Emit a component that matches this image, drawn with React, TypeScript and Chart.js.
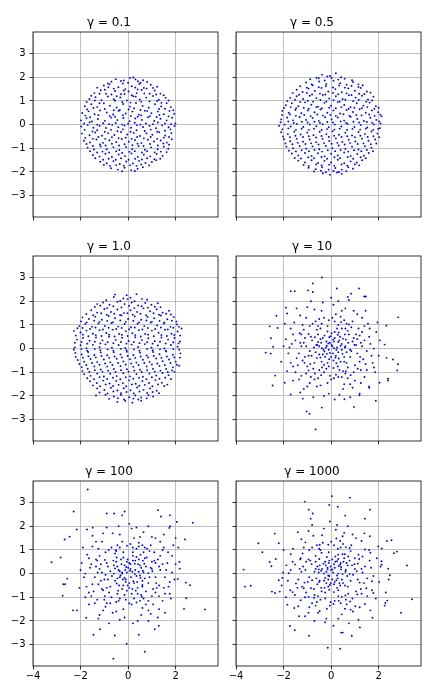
import React, { useEffect, useRef } from 'react';
import { Chart, registerables } from 'chart.js';
Chart.register(...registerables);

const gammaLabels = ['0.1', '0.5', '1.0', '10', '100', '1000'];
const xTicks = [-4, -2, 0, 2];
const yTicks = [-3, -2, -1, 0, 1, 2, 3];
const xRange = [-4.0, 3.78];
const yRange = [-3.9, 3.91];

const pts01: number[][] = [
[-0.52,1.92],[-0.18,1.86],[0.08,1.97],[0.31,1.91],[0.63,1.87],[0.22,1.99],
[-1.02,1.65],[-0.78,1.7],[-0.41,1.58],[-0.22,1.74],[0.15,1.62],[0.47,1.72],[0.66,1.55],[0.95,1.68],[-0.6,1.52],
[-1.42,1.33],[-1.15,1.45],[-0.93,1.3],[-0.55,1.42],[-0.3,1.28],[0.02,1.4],[0.36,1.33],[0.57,1.46],[0.91,1.3],[1.12,1.44],[1.36,1.31],[-0.12,1.5],[0.78,1.52],
[-1.63,1.08],[-1.37,1.16],[-1.12,1.03],[-0.85,1.19],[-0.6,1.07],[-0.33,1.15],[-0.05,1.02],[0.22,1.2],[0.49,1.06],[0.76,1.14],[1.05,1.21],[1.29,1.05],[1.58,1.13],[0.9,0.98],
[-1.82,0.78],[-1.55,0.86],[-1.3,0.74],[-1.02,0.9],[-0.77,0.8],[-0.48,0.72],[-0.21,0.87],[0.08,0.76],[0.33,0.91],[0.61,0.79],[0.87,0.71],[1.13,0.86],[1.39,0.77],[1.62,0.9],[1.8,0.74],[-0.35,0.62],
[-1.93,0.49],[-1.66,0.56],[-1.41,0.44],[-1.18,0.6],[-0.9,0.51],[-0.63,0.43],[-0.4,0.58],[-0.1,0.47],[0.18,0.55],[0.45,0.42],[0.7,0.59],[0.98,0.48],[1.25,0.55],[1.5,0.44],[1.74,0.58],[1.94,0.46],
[-1.98,0.18],[-1.75,0.27],[-1.52,0.13],[-1.27,0.24],[-0.98,0.16],[-0.72,0.3],[-0.45,0.19],[-0.2,0.28],[0.06,0.14],[0.3,0.26],[0.58,0.2],[0.84,0.31],[1.1,0.15],[1.36,0.25],[1.62,0.18],[1.85,0.29],[1.99,0.05],
[-1.97,-0.08],[-1.7,-0.02],[-1.46,-0.13],[-1.2,-0.05],[-0.93,-0.14],[-0.67,-0.01],[-0.41,-0.11],[-0.15,-0.04],[0.12,-0.13],[0.37,-0.02],[0.63,-0.1],[0.9,-0.05],[1.17,-0.15],[1.43,-0.03],[1.7,-0.11],[1.95,-0.06],
[-1.94,-0.38],[-1.62,-0.45],[-1.38,-0.33],[-1.1,-0.47],[-0.84,-0.36],[-0.58,-0.44],[-0.3,-0.31],[-0.04,-0.42],[0.24,-0.35],[0.5,-0.48],[0.77,-0.37],[1.02,-0.43],[1.31,-0.32],[1.56,-0.46],[1.82,-0.36],
[-1.86,-0.68],[-1.6,-0.75],[-1.33,-0.63],[-1.05,-0.77],[-0.79,-0.66],[-0.5,-0.74],[-0.26,-0.61],[0.03,-0.72],[0.29,-0.65],[0.56,-0.78],[0.83,-0.64],[1.09,-0.71],[1.37,-0.67],[1.63,-0.76],[1.84,-0.62],
[-1.7,-0.97],[-1.44,-1.05],[-1.16,-0.92],[-0.9,-1.04],[-0.62,-0.95],[-0.37,-1.07],[-0.09,-0.94],[0.17,-1.03],[0.44,-0.91],[0.71,-1.06],[0.97,-0.96],[1.24,-1.04],[1.5,-0.93],[1.69,-1.02],
[-1.48,-1.28],[-1.2,-1.35],[-0.95,-1.23],[-0.68,-1.37],[-0.4,-1.26],[-0.13,-1.33],[0.14,-1.22],[0.41,-1.36],[0.66,-1.27],[0.93,-1.34],[1.2,-1.24],[1.45,-1.32],
[-1.17,-1.57],[-0.9,-1.63],[-0.62,-1.54],[-0.35,-1.66],[-0.08,-1.56],[0.2,-1.64],[0.46,-1.53],[0.73,-1.62],[1.0,-1.58],[1.18,-1.5],
[-0.72,-1.84],[-0.43,-1.9],[-0.15,-1.82],[0.13,-1.92],[0.4,-1.86],[0.62,-1.8],[-0.25,-1.97],[0.28,-1.96],
[-0.85,1.74],[-0.7,1.81],[-0.3,1.84],[0.0,1.77],[0.41,1.83],[0.52,1.77],[0.8,1.8],
[-1.3,1.56],[-0.98,1.47],[-0.83,1.58],[-0.18,1.44],[0.3,1.57],[0.4,1.48],[1.05,1.55],[1.22,1.6],
[-1.55,1.22],[-1.2,1.3],[-0.7,1.27],[-0.48,1.2],[-0.15,1.29],[0.15,1.24],[0.32,1.18],[0.68,1.32],[1.18,1.27],[1.5,1.24],
[-1.74,0.96],[-1.4,1.02],[-1.2,0.9],[-0.55,1.01],[-0.25,0.96],[0.1,0.93],[0.55,0.97],[1.22,1.0],[1.4,0.92],[1.7,1.02],
[-1.72,0.64],[-1.46,0.7],[-0.98,0.66],[-0.6,0.61],[0.02,0.64],[0.25,0.69],[0.52,0.62],[0.8,0.57],[1.3,0.66],[1.55,0.67],[1.9,0.61],
[-1.8,0.38],[-1.6,0.31],[-1.25,0.4],[-0.78,0.37],[-0.55,0.33],[-0.22,0.4],[0.12,0.36],[0.4,0.33],[0.55,0.39],[0.92,0.36],[1.2,0.32],[1.32,0.41],[1.7,0.35],
[-1.85,0.05],[-1.62,0.1],[-1.3,0.0],[-1.05,0.06],[-0.8,0.02],[-0.52,0.07],[-0.25,0.0],[0.0,0.04],[0.28,0.08],[0.52,0.0],[0.75,0.05],[1.05,0.02],[1.25,0.09],[1.55,0.05],[1.8,0.02],
[-1.83,-0.22],[-1.5,-0.29],[-1.3,-0.24],[-0.98,-0.3],[-0.72,-0.22],[-0.45,-0.28],[-0.22,-0.2],[0.1,-0.3],[0.35,-0.24],[0.7,-0.27],[0.95,-0.21],[1.22,-0.3],[1.55,-0.26],[1.78,-0.2],
[-1.8,-0.56],[-1.48,-0.6],[-1.25,-0.52],[-0.96,-0.6],[-0.68,-0.53],[-0.4,-0.57],[-0.1,-0.55],[0.15,-0.6],[0.38,-0.52],[0.66,-0.58],[0.95,-0.52],[1.22,-0.6],[1.5,-0.55],[1.72,-0.52],
[-1.75,-0.82],[-1.48,-0.9],[-1.18,-0.84],[-0.95,-0.88],[-0.68,-0.81],[-0.38,-0.88],[-0.15,-0.83],[0.18,-0.87],[0.4,-0.81],[0.65,-0.9],[0.92,-0.82],[1.25,-0.88],[1.48,-0.8],[1.72,-0.85],
[-1.6,-1.12],[-1.3,-1.18],[-1.08,-1.14],[-0.8,-1.18],[-0.5,-1.12],[-0.25,-1.2],[0.05,-1.15],[0.28,-1.12],[0.58,-1.18],[0.8,-1.12],[1.12,-1.17],[1.38,-1.14],[1.62,-1.16],
[-1.38,-1.42],[-1.05,-1.48],[-0.82,-1.44],[-0.52,-1.48],[-0.3,-1.42],[0.02,-1.48],[0.3,-1.44],[0.58,-1.47],[0.8,-1.42],[1.1,-1.46],[1.35,-1.44],
[-1.02,-1.7],[-0.76,-1.74],[-0.5,-1.71],[-0.18,-1.74],[0.08,-1.72],[0.35,-1.74],[0.55,-1.68],[0.88,-1.72]
];

const pts05: number[][] = [
[-0.38,2.1],[-0.05,2.05],[0.2,2.17],[0.42,2.0],[-0.62,1.98],
[-1.05,1.78],[-0.82,1.7],[-0.5,1.82],[-0.2,1.72],[0.1,1.85],[0.38,1.75],[0.65,1.68],[0.92,1.8],[1.15,1.7],
[-1.45,1.47],[-1.2,1.38],[-0.95,1.52],[-0.68,1.42],[-0.4,1.55],[-0.12,1.4],[0.18,1.5],[0.45,1.37],[0.72,1.53],[1.0,1.43],[1.25,1.55],[1.5,1.4],
[-1.72,1.13],[-1.45,1.2],[-1.18,1.08],[-0.9,1.22],[-0.62,1.12],[-0.35,1.25],[-0.08,1.1],[0.2,1.2],[0.48,1.08],[0.75,1.24],[1.03,1.14],[1.3,1.22],[1.55,1.06],[1.78,1.18],
[-1.9,0.82],[-1.65,0.9],[-1.38,0.78],[-1.1,0.94],[-0.83,0.84],[-0.55,0.76],[-0.28,0.92],[0.0,0.8],[0.28,0.95],[0.55,0.83],[0.82,0.74],[1.08,0.9],[1.36,0.8],[1.62,0.93],[1.88,0.78],
[-2.05,0.58],[-1.78,0.5],[-1.5,0.62],[-1.25,0.48],[-0.98,0.6],[-0.7,0.52],[-0.45,0.64],[-0.16,0.5],[0.1,0.6],[0.38,0.47],[0.65,0.62],[0.92,0.53],[1.2,0.65],[1.46,0.5],[1.72,0.6],[1.98,0.52],[2.12,0.35],
[-2.1,0.22],[-1.85,0.3],[-1.6,0.18],[-1.32,0.32],[-1.05,0.2],[-0.78,0.28],[-0.52,0.16],[-0.25,0.31],[0.02,0.22],[0.28,0.3],[0.55,0.17],[0.82,0.33],[1.1,0.24],[1.38,0.15],[1.65,0.29],[1.9,0.2],[2.08,0.05],
[-2.19,-0.05],[-1.95,0.0],[-1.7,-0.08],[-1.44,0.03],[-1.17,-0.1],[-0.9,0.01],[-0.62,-0.07],[-0.36,0.02],[-0.1,-0.11],[0.16,0.0],[0.43,-0.08],[0.7,0.03],[0.98,-0.1],[1.25,-0.02],[1.52,-0.12],[1.8,0.01],[2.05,-0.15],
[-2.1,-0.32],[-1.82,-0.4],[-1.55,-0.3],[-1.28,-0.42],[-1.0,-0.33],[-0.74,-0.45],[-0.48,-0.3],[-0.2,-0.4],[0.06,-0.28],[0.33,-0.43],[0.6,-0.34],[0.88,-0.46],[1.15,-0.31],[1.42,-0.4],[1.7,-0.29],[1.95,-0.38],
[-1.98,-0.62],[-1.72,-0.7],[-1.45,-0.6],[-1.18,-0.72],[-0.9,-0.63],[-0.63,-0.74],[-0.36,-0.6],[-0.08,-0.69],[0.2,-0.58],[0.47,-0.73],[0.74,-0.64],[1.02,-0.71],[1.3,-0.59],[1.57,-0.68],[1.85,-0.63],
[-1.88,-0.93],[-1.6,-1.0],[-1.32,-0.9],[-1.05,-1.02],[-0.78,-0.92],[-0.5,-1.04],[-0.22,-0.9],[0.05,-1.0],[0.32,-0.88],[0.6,-1.03],[0.88,-0.93],[1.15,-1.05],[1.42,-0.91],[1.7,-0.98],
[-1.65,-1.22],[-1.38,-1.3],[-1.1,-1.2],[-0.82,-1.32],[-0.55,-1.21],[-0.27,-1.34],[0.0,-1.23],[0.28,-1.3],[0.55,-1.18],[0.82,-1.33],[1.1,-1.24],[1.38,-1.31],[1.58,-1.2],
[-1.38,-1.52],[-1.1,-1.6],[-0.82,-1.5],[-0.55,-1.62],[-0.28,-1.53],[0.0,-1.6],[0.28,-1.48],[0.55,-1.63],[0.82,-1.55],[1.08,-1.6],[1.3,-1.5],
[-0.95,-1.82],[-0.65,-1.88],[-0.38,-1.8],[-0.1,-1.9],[0.18,-1.83],[0.45,-1.9],[0.72,-1.8],[0.92,-1.86],
[-0.35,-2.05],[-0.05,-2.12],[0.25,-2.02],[0.45,-2.08],
[-0.88,1.92],[-0.52,1.96],[-0.27,1.86],[0.02,1.97],[0.3,1.9],[0.57,1.94],[0.88,1.87],[-0.16,2.03],
[-1.3,1.62],[-1.02,1.56],[-0.78,1.66],[-0.52,1.58],[-0.22,1.63],[0.08,1.57],[0.34,1.65],[0.58,1.56],[0.86,1.63],[1.15,1.59],[1.33,1.66],
[-1.62,1.33],[-1.35,1.26],[-1.02,1.34],[-0.8,1.27],[-0.47,1.31],[-0.24,1.27],[0.08,1.34],[0.3,1.28],[0.65,1.32],[0.86,1.25],[1.18,1.3],[1.4,1.29],[1.66,1.35],
[-1.84,0.99],[-1.52,1.05],[-1.3,0.96],[-0.98,1.01],[-0.76,0.97],[-0.45,1.04],[-0.2,0.98],[0.1,1.03],[0.36,0.97],[0.6,1.05],[0.93,0.99],[1.16,1.04],[1.48,0.97],[1.72,1.02],
[-1.98,0.7],[-1.7,0.74],[-1.47,0.69],[-1.15,0.71],[-0.94,0.67],[-0.62,0.74],[-0.39,0.69],[-0.08,0.71],[0.2,0.69],[0.43,0.74],[0.74,0.67],[0.98,0.71],[1.3,0.69],[1.52,0.74],[1.82,0.67],[2.0,0.71],
[-2.06,0.41],[-1.73,0.43],[-1.48,0.37],[-1.13,0.41],[-0.86,0.36],[-0.58,0.43],[-0.34,0.38],[-0.03,0.41],[0.2,0.37],[0.52,0.44],[0.77,0.37],[1.06,0.41],[1.28,0.39],[1.6,0.43],[1.83,0.37],[2.07,0.42],
[-2.12,0.1],[-1.8,0.13],[-1.57,0.07],[-1.23,0.12],[-0.99,0.09],[-0.7,0.12],[-0.47,0.08],[-0.16,0.11],[0.08,0.09],[0.4,0.13],[0.63,0.07],[0.94,0.12],[1.18,0.09],[1.5,0.11],[1.73,0.08],[2.02,0.13],
[-2.05,-0.2],[-1.8,-0.16],[-1.48,-0.22],[-1.24,-0.17],[-0.93,-0.22],[-0.72,-0.17],[-0.4,-0.23],[-0.17,-0.19],[0.14,-0.21],[0.36,-0.17],[0.67,-0.23],[0.9,-0.18],[1.22,-0.21],[1.46,-0.17],[1.77,-0.22],[1.98,-0.18],
[-2.02,-0.5],[-1.73,-0.53],[-1.5,-0.47],[-1.18,-0.52],[-0.94,-0.49],[-0.63,-0.54],[-0.4,-0.48],[-0.1,-0.52],[0.13,-0.47],[0.44,-0.52],[0.68,-0.49],[1.0,-0.53],[1.23,-0.47],[1.54,-0.52],[1.78,-0.49],[2.02,-0.53],
[-1.92,-0.8],[-1.63,-0.83],[-1.4,-0.77],[-1.08,-0.82],[-0.84,-0.79],[-0.53,-0.84],[-0.3,-0.78],[0.02,-0.81],[0.26,-0.77],[0.57,-0.84],[0.8,-0.78],[1.12,-0.82],[1.36,-0.79],[1.67,-0.83],[1.9,-0.8],
[-1.78,-1.1],[-1.48,-1.13],[-1.24,-1.08],[-0.93,-1.12],[-0.7,-1.07],[-0.38,-1.14],[-0.14,-1.08],[0.17,-1.12],[0.4,-1.07],[0.72,-1.14],[0.96,-1.08],[1.27,-1.12],[1.5,-1.07],[1.76,-1.12],
[-1.53,-1.41],[-1.27,-1.43],[-0.96,-1.38],[-0.72,-1.42],[-0.4,-1.37],[-0.17,-1.44],[0.14,-1.38],[0.38,-1.42],[0.7,-1.37],[0.93,-1.44],[1.24,-1.38],[1.46,-1.42],
[-1.16,-1.7],[-0.94,-1.74],[-0.63,-1.68],[-0.4,-1.72],[-0.08,-1.69],[0.13,-1.74],[0.44,-1.68],[0.68,-1.73],[1.0,-1.67],[1.18,-1.72],
[-0.72,-1.98],[-0.43,-1.95],[-0.22,-2.01],[0.1,-1.96],[0.33,-2.0],[0.64,-1.97]
];

const pts1: number[][] = [
[-0.55,2.28],[-0.6,2.18],[0.35,2.3],[0.1,2.15],[0.58,2.1],[-0.2,2.12],
[-1.3,1.88],[-1.05,1.95],[-0.78,1.85],[-0.45,1.98],[-0.15,1.88],[0.15,1.95],[0.42,1.82],[0.72,1.93],[0.98,1.85],[1.25,1.92],
[-1.55,1.62],[-1.3,1.52],[-1.0,1.67],[-0.72,1.55],[-0.45,1.65],[-0.18,1.5],[0.1,1.62],[0.38,1.55],[0.65,1.7],[0.92,1.58],[1.2,1.66],[1.45,1.52],[1.72,1.6],
[-1.92,1.32],[-1.65,1.25],[-1.38,1.35],[-1.1,1.22],[-0.82,1.38],[-0.55,1.28],[-0.28,1.4],[0.0,1.25],[0.28,1.36],[0.55,1.22],[0.82,1.34],[1.1,1.28],[1.38,1.4],[1.65,1.24],[1.92,1.33],
[-2.05,0.95],[-1.8,1.05],[-1.52,0.92],[-1.25,1.06],[-0.98,0.96],[-0.7,1.08],[-0.42,0.93],[-0.15,1.04],[0.12,0.9],[0.4,1.05],[0.68,0.95],[0.95,1.1],[1.22,0.98],[1.5,1.06],[1.78,0.92],[2.05,1.02],[2.25,0.85],
[-2.28,0.75],[-2.0,0.68],[-1.75,0.76],[-1.48,0.63],[-1.2,0.78],[-0.92,0.66],[-0.65,0.8],[-0.38,0.62],[-0.1,0.74],[0.18,0.65],[0.45,0.78],[0.72,0.62],[1.0,0.76],[1.28,0.67],[1.55,0.8],[1.82,0.63],[2.08,0.72],
[-2.15,0.38],[-1.9,0.45],[-1.62,0.33],[-1.35,0.47],[-1.08,0.35],[-0.8,0.5],[-0.52,0.37],[-0.25,0.46],[0.02,0.32],[0.3,0.48],[0.58,0.36],[0.85,0.44],[1.12,0.31],[1.4,0.47],[1.68,0.38],[1.95,0.45],[2.18,0.3],
[-2.25,0.05],[-2.0,0.14],[-1.75,0.02],[-1.48,0.16],[-1.2,0.06],[-0.95,0.18],[-0.68,0.04],[-0.4,0.15],[-0.12,0.03],[0.15,0.17],[0.42,0.07],[0.7,0.19],[0.98,0.04],[1.25,0.13],[1.52,0.01],[1.8,0.15],[2.08,0.08],
[-2.22,-0.18],[-1.95,-0.25],[-1.68,-0.14],[-1.42,-0.27],[-1.15,-0.16],[-0.88,-0.28],[-0.6,-0.15],[-0.32,-0.25],[-0.05,-0.13],[0.22,-0.27],[0.5,-0.17],[0.78,-0.29],[1.05,-0.14],[1.32,-0.24],[1.6,-0.12],[1.88,-0.26],[2.2,-0.2],
[-2.12,-0.48],[-1.85,-0.55],[-1.58,-0.44],[-1.3,-0.57],[-1.02,-0.46],[-0.75,-0.58],[-0.48,-0.43],[-0.2,-0.54],[0.08,-0.45],[0.35,-0.59],[0.62,-0.47],[0.9,-0.56],[1.18,-0.42],[1.45,-0.53],[1.72,-0.46],[2.0,-0.55],[2.15,-0.72],
[-1.95,-0.78],[-1.7,-0.85],[-1.42,-0.75],[-1.15,-0.88],[-0.88,-0.76],[-0.6,-0.86],[-0.32,-0.74],[-0.05,-0.87],[0.22,-0.77],[0.5,-0.89],[0.78,-0.75],[1.05,-0.85],[1.32,-0.73],[1.6,-0.86],[1.88,-0.79],[1.95,-0.98],
[-1.85,-1.08],[-1.58,-1.15],[-1.3,-1.05],[-1.02,-1.18],[-0.75,-1.06],[-0.48,-1.16],[-0.2,-1.04],[0.08,-1.17],[0.35,-1.07],[0.62,-1.19],[0.9,-1.05],[1.18,-1.14],[1.45,-1.03],[1.7,-1.12],
[-1.6,-1.38],[-1.32,-1.45],[-1.05,-1.35],[-0.78,-1.47],[-0.5,-1.36],[-0.22,-1.46],[0.05,-1.34],[0.32,-1.48],[0.6,-1.37],[0.88,-1.45],[1.15,-1.33],[1.42,-1.44],[1.65,-1.52],
[-1.3,-1.68],[-1.0,-1.75],[-0.72,-1.65],[-0.45,-1.77],[-0.18,-1.67],[0.1,-1.76],[0.38,-1.64],[0.65,-1.74],[0.92,-1.68],[1.2,-1.78],
[-1.35,-1.98],[-0.95,-1.95],[-0.6,-2.02],[-0.3,-1.96],[0.05,-2.05],[0.3,-1.98],[0.55,-2.06],[0.85,-1.97],[1.05,-2.02],
[-0.45,-2.25],[-0.12,-2.2],[0.18,-2.28],[0.55,-2.2],
[-0.92,2.04],[-0.33,2.01],[-0.02,2.09],[0.27,2.0],[0.8,2.06],[-0.06,2.25],
[-1.4,1.76],[-1.17,1.81],[-0.88,1.71],[-0.62,1.79],[-0.28,1.74],[0.04,1.8],[0.26,1.71],[0.57,1.79],[0.83,1.73],[1.12,1.77],[1.36,1.75],
[-1.76,1.46],[-1.47,1.41],[-1.13,1.49],[-0.9,1.43],[-0.58,1.47],[-0.34,1.42],[-0.03,1.49],[0.2,1.43],[0.52,1.47],[0.76,1.41],[1.07,1.49],[1.3,1.43],[1.6,1.47],[1.8,1.44],
[-1.98,1.15],[-1.74,1.11],[-1.43,1.18],[-1.2,1.13],[-0.88,1.17],[-0.64,1.11],[-0.33,1.19],[-0.1,1.13],[0.22,1.17],[0.46,1.11],[0.77,1.19],[1.0,1.13],[1.32,1.17],[1.53,1.11],[1.84,1.18],[2.03,1.14],
[-2.13,0.86],[-1.92,0.87],[-1.6,0.83],[-1.37,0.89],[-1.06,0.81],[-0.82,0.88],[-0.5,0.83],[-0.27,0.87],[0.04,0.82],[0.28,0.89],[0.6,0.81],[0.83,0.87],[1.14,0.83],[1.38,0.89],[1.67,0.81],[1.9,0.88],[2.14,0.92],
[-2.2,0.55],[-1.9,0.59],[-1.67,0.52],[-1.36,0.57],[-1.12,0.53],[-0.8,0.59],[-0.57,0.51],[-0.26,0.58],[-0.02,0.53],[0.3,0.57],[0.53,0.51],[0.84,0.59],[1.08,0.52],[1.4,0.57],[1.63,0.53],[1.94,0.58],[2.19,0.55],
[-2.24,0.25],[-1.96,0.28],[-1.72,0.21],[-1.4,0.29],[-1.17,0.22],[-0.86,0.27],[-0.62,0.23],[-0.3,0.28],[-0.07,0.21],[0.24,0.28],[0.48,0.23],[0.8,0.27],[1.03,0.21],[1.34,0.29],[1.58,0.22],[1.9,0.27],[2.12,0.22],
[-2.28,-0.05],[-1.96,-0.02],[-1.72,-0.09],[-1.4,-0.02],[-1.17,-0.07],[-0.86,-0.03],[-0.62,-0.09],[-0.3,-0.01],[-0.07,-0.07],[0.24,-0.03],[0.48,-0.09],[0.8,-0.02],[1.03,-0.07],[1.34,-0.03],[1.58,-0.09],[1.9,-0.02],[2.15,-0.05],
[-2.2,-0.35],[-1.9,-0.39],[-1.67,-0.32],[-1.36,-0.37],[-1.12,-0.31],[-0.8,-0.39],[-0.57,-0.33],[-0.26,-0.37],[-0.02,-0.31],[0.3,-0.39],[0.53,-0.33],[0.84,-0.37],[1.08,-0.31],[1.4,-0.39],[1.63,-0.33],[1.94,-0.37],[2.18,-0.38],
[-2.05,-0.65],[-1.76,-0.69],[-1.52,-0.61],[-1.2,-0.68],[-0.97,-0.63],[-0.66,-0.69],[-0.42,-0.61],[-0.1,-0.67],[0.13,-0.63],[0.44,-0.69],[0.68,-0.61],[1.0,-0.67],[1.23,-0.63],[1.54,-0.69],[1.78,-0.61],[2.05,-0.68],
[-1.92,-0.95],[-1.63,-0.99],[-1.4,-0.91],[-1.08,-0.98],[-0.84,-0.93],[-0.53,-0.99],[-0.3,-0.91],[0.02,-0.97],[0.26,-0.93],[0.57,-0.99],[0.8,-0.91],[1.12,-0.97],[1.36,-0.93],[1.67,-0.99],[1.85,-0.92],
[-1.72,-1.25],[-1.43,-1.29],[-1.2,-1.21],[-0.88,-1.28],[-0.64,-1.23],[-0.33,-1.29],[-0.1,-1.21],[0.22,-1.27],[0.46,-1.23],[0.77,-1.29],[1.0,-1.21],[1.32,-1.27],[1.56,-1.23],[1.8,-1.28],
[-1.48,-1.55],[-1.18,-1.59],[-0.94,-1.51],[-0.63,-1.58],[-0.4,-1.53],[-0.08,-1.59],[0.16,-1.51],[0.47,-1.57],[0.7,-1.53],[1.02,-1.59],[1.26,-1.51],[1.52,-1.58],
[-1.2,-1.85],[-0.86,-1.89],[-0.62,-1.81],[-0.3,-1.88],[-0.07,-1.83],[0.24,-1.89],[0.48,-1.81],[0.8,-1.87],[1.03,-1.83],[1.3,-1.88],
[-0.8,-2.12],[-0.43,-2.09],[-0.17,-2.15],[0.22,-2.11],[0.43,-2.15],[0.78,-2.1]
];

const pts10: number[][] = [
[0.05,0.1],[-0.2,0.3],[0.3,-0.15],[-0.35,-0.25],[0.15,0.45],[-0.5,0.1],[0.45,0.2],[0.1,-0.5],[-0.1,-0.05],[0.25,0.05],[-0.28,0.55],[0.55,-0.35],[-0.6,-0.4],[0.02,0.65],[0.38,0.5],[-0.45,0.4],[0.6,0.1],[-0.15,-0.6],[0.2,-0.3],[-0.05,0.25],[0.4,-0.55],[-0.62,0.15],[0.12,0.3],[-0.32,-0.05],[0.5,0.42],[-0.18,0.12],[0.3,0.28],[-0.4,-0.55],[0.08,-0.2],[0.65,-0.15],[-0.55,0.6],[0.22,-0.62],[-0.08,0.48],[0.45,-0.05],[-0.25,-0.35],[0.58,0.6],[-0.65,-0.15],[0.0,-0.35],[0.32,0.68],[-0.42,0.25],
[0.9,0.3],[-0.85,0.5],[0.7,-0.8],[-0.75,-0.85],[1.1,-0.2],[-1.05,0.1],[0.3,1.0],[-0.4,1.05],[0.2,-1.1],[-0.3,-1.0],[1.2,0.55],[-1.2,-0.5],[0.85,0.9],[-0.9,0.95],[1.0,-0.7],[-1.0,-0.75],[0.55,1.2],[-0.65,1.15],[0.45,-1.2],[-0.55,-1.25],[1.3,0.1],[-1.3,0.25],[0.05,1.3],[0.0,-1.3],[1.15,0.85],[-1.15,0.8],[0.95,-1.0],[-1.05,-1.05],[0.75,0.6],[-0.8,0.35],[0.8,-0.35],[-0.7,-0.6],[1.35,-0.45],[-1.35,-0.2],[0.25,0.85],[-0.15,0.95],[0.35,-0.9],[-0.2,-0.85],[1.05,0.15],[-0.95,-0.3],[0.6,0.85],[-0.6,0.8],[0.65,-0.6],[-0.5,-0.9],[1.25,-0.9],[-1.2,1.0],[0.9,1.15],[-0.85,-1.2],[0.15,1.15],[-0.05,-1.15],[1.4,0.35],[-1.4,-0.7],[0.7,-1.25],[-0.3,1.3],[1.05,0.6],[-1.1,0.45],[0.5,-0.95],[-0.9,-0.1],[0.85,-0.1],[-0.45,0.85],[0.4,1.35],[-0.7,-1.3],[1.2,-0.55],[-1.25,0.6],[0.95,0.45],
[1.6,0.5],[-1.6,0.6],[1.5,-0.9],[-1.5,-1.0],[0.6,1.7],[-0.7,1.65],[0.5,-1.7],[-0.6,-1.6],[1.8,0.0],[-1.8,-0.2],[0.1,1.85],[-0.1,-1.9],[1.3,1.3],[-1.3,1.4],[1.25,-1.45],[-1.35,-1.3],[1.9,0.7],[-1.9,0.4],[1.75,-0.6],[-1.7,-0.6],[0.95,1.6],[-1.0,1.75],[0.9,-1.65],[-1.0,-1.6],[1.55,1.05],[-1.55,1.1],[1.4,-1.2],[-1.6,-1.35],[2.0,-0.3],[-2.0,0.1],[0.3,2.0],[-0.35,1.95],[0.35,-1.95],[-0.3,-2.0],[1.65,0.2],[-1.65,0.2],[1.1,1.45],[-1.15,-1.7],[0.75,2.05],[-0.85,2.0],[1.85,-1.0],[-1.85,-0.95],[0.8,-2.05],[-0.75,-2.05],[2.05,0.35],[-2.1,-0.55],[1.45,1.6],[-1.45,1.7],[1.6,-1.6],[-1.3,-1.85],[0.0,2.15],[0.15,-2.15],[1.95,1.1],[-1.95,1.05],[1.2,-1.9],
[0.12,0.02],[-0.12,0.22],[0.22,-0.05],[-0.28,-0.12],[0.08,0.38],[-0.38,0.02],[0.35,0.35],[0.18,-0.38],[-0.18,-0.22],[0.4,0.12],[-0.35,0.45],[0.48,-0.22],[-0.5,-0.25],[-0.02,0.52],[0.28,0.58],[-0.55,0.28],[0.72,0.25],[-0.08,-0.45],[0.32,-0.42],[-0.22,0.05],[0.55,-0.55],[-0.72,0.05],[0.02,0.15],[-0.45,-0.38],[0.62,0.38],[-0.05,-0.18],[0.15,0.7],[-0.3,-0.68],[0.28,-0.75],[0.8,-0.05],[-0.68,0.48],[0.1,-0.82],[-0.15,0.72],[0.58,0.05],[-0.38,-0.8],[0.7,0.75],[-0.82,-0.3],[-0.1,-0.75],[0.45,0.85],[-0.58,0.15],
[0.98,0.15],[-0.95,0.62],[0.62,-0.95],[-0.88,-0.65],[1.22,-0.35],[-1.15,0.25],[0.42,1.12],[-0.55,0.95],[0.3,-1.2],[-0.42,-1.12],[1.1,0.4],[-1.1,-0.35],[0.75,1.02],[-0.78,1.05],[1.12,-0.85],[-1.12,-0.6],[0.65,1.05],[-0.5,1.25],[0.6,-1.05],[-0.68,-1.05],[1.25,0.25],[-1.25,0.1],[-0.1,1.2],[0.12,-1.25],[1.3,0.7],[-1.32,0.65],[0.82,-1.12],[-0.95,-0.92],[1.5,-0.1],[-1.5,0.35],[0.2,1.45],[-0.15,-1.45],[1.45,-0.65],[-1.45,-0.4],[1.4,0.95],[-1.05,1.3],[1.0,-1.35],[-1.25,-1.15],[1.7,-0.3],[-1.75,0.05],[0.45,1.6],[-0.45,-1.55],[1.62,0.85],[-1.7,0.85],[0.8,-1.5],[-0.9,-1.45],[1.8,-0.8],[-1.6,-0.75],[0.55,-1.5],[-0.4,1.6],
[-0.39,3.0],[-1.7,2.42],[-1.53,2.42],[-0.97,2.46],[-0.77,2.39],[-0.77,2.75],[0.24,2.54],[1.17,2.54],[0.84,2.32],[0.7,2.18],[1.39,2.2],[1.46,2.2],[-1.9,1.73],[-2.3,1.39],[-1.85,1.48],[-2.58,0.94],[-2.25,0.87],[-2.53,0.44],[-2.75,-0.17],[-2.54,-0.21],[-2.44,0.08],[2.82,1.32],[2.32,0.97],[2.25,0.17],[2.33,-0.39],[2.6,-0.46],[2.81,-0.66],[2.78,-0.92],[2.39,-1.27],[2.39,-1.35],[2.04,-1.44],[1.6,-1.65],[1.88,-2.2],[-2.35,-1.14],[-2.46,-1.56],[-1.95,-1.44],[-1.7,-1.94],[-1.19,-2.11],[-1.03,-2.65],[-0.91,-2.75],[-0.39,-2.49],[-0.65,-3.41],[0.96,-2.46],[0.56,-2.14],[1.19,-1.97]
];

const pts100: number[][] = [
[0.1,0.2],[-0.25,0.05],[0.35,-0.1],[-0.1,-0.35],[0.2,0.55],[-0.45,0.3],[0.5,0.35],[0.05,-0.6],[-0.05,0.05],[0.3,0.15],[-0.3,0.6],[0.6,-0.3],[-0.55,-0.3],[0.1,0.4],[0.45,0.6],[-0.5,0.5],[0.65,0.05],[-0.2,-0.5],[0.25,-0.4],[-0.15,0.35],[0.4,-0.6],[-0.6,0.0],[0.0,0.25],[-0.35,-0.15],[0.55,0.25],[-0.12,0.15],[0.28,0.42],[-0.38,-0.5],[0.12,-0.15],[0.7,-0.2],[-0.48,0.68],[0.18,-0.65],[-0.02,0.6],[0.5,-0.08],[-0.22,-0.25],[0.62,0.55],[-0.68,-0.1],[0.05,-0.4],[0.35,0.7],[-0.4,0.15],
[0.95,0.25],[-0.9,0.45],[0.75,-0.75],[-0.8,-0.8],[1.15,-0.15],[-1.1,0.05],[0.35,1.05],[-0.35,1.1],[0.25,-1.05],[-0.35,-1.05],[1.25,0.6],[-1.25,-0.45],[0.9,0.95],[-0.95,0.9],[1.05,-0.65],[-1.05,-0.7],[0.6,1.2],[-0.7,1.1],[0.5,-1.15],[-0.5,-1.2],[1.35,0.15],[-1.35,0.3],[0.1,1.25],[0.05,-1.25],[1.1,0.9],[-1.2,0.75],[1.0,-0.95],[-1.0,-1.1],[0.7,0.65],[-0.85,0.3],[0.85,-0.4],[-0.75,-0.55],[1.3,-0.5],[-1.4,-0.15],[0.2,0.9],[-0.2,0.9],[0.4,-0.85],[-0.15,-0.9],[1.0,0.2],[-1.0,-0.25],[0.65,0.9],[-0.55,0.85],[0.6,-0.55],[-0.45,-0.85],[1.3,-0.95],[-1.25,1.05],[0.95,1.2],[-0.9,-1.25],[0.2,1.1],[-0.1,-1.1],[1.45,0.4],[-1.45,-0.75],[0.75,-1.3],[-0.25,1.35],[1.1,0.55],[-1.15,0.4],[0.55,-0.9],[-0.95,-0.05],[0.9,-0.15],[-0.5,0.95],[0.45,1.3],[-0.75,-1.25],[1.2,-0.6],[-1.3,0.55],[1.0,0.5],
[1.65,0.45],[-1.65,0.65],[1.55,-0.85],[-1.55,-0.95],[0.65,1.75],[-0.65,1.7],[0.55,-1.75],[-0.65,-1.65],[1.85,0.05],[-1.85,-0.15],[0.15,1.9],[-0.15,-1.85],[1.35,1.35],[-1.35,1.35],[1.3,-1.5],[-1.4,-1.25],[1.85,0.75],[-1.95,0.45],[1.7,-0.55],[-1.75,-0.55],[1.0,1.55],[-1.05,1.7],[0.95,-1.7],[-1.05,-1.55],[1.5,1.1],[-1.5,1.15],[1.45,-1.15],[-1.65,-1.3],[1.95,-0.25],[-2.0,0.15],[0.35,1.95],[-0.4,2.0],[0.4,-2.0],[-0.35,-1.95],[1.6,0.15],[-1.6,0.25],[1.15,1.5],[-1.2,-1.75],[0.85,2.0],[-0.9,1.95],[1.8,-1.05],[-1.8,-1.0],[0.85,-2.0],[-0.8,-2.1],[2.0,0.4],[-2.05,-0.6],[1.5,1.65],[-1.5,1.6],[1.55,-1.65],[-1.25,-1.9],[0.05,2.1],[0.2,-2.1],[1.9,1.2],[-1.9,1.1],[1.25,-1.85],
[0.18,0.08],[-0.08,0.28],[0.28,-0.02],[-0.32,-0.08],[0.05,0.45],[-0.35,0.1],[0.42,0.4],[0.22,-0.32],[-0.15,-0.18],[0.45,0.08],[-0.28,0.4],[0.52,-0.18],[-0.45,-0.2],[-0.05,0.5],[0.3,0.55],[-0.6,0.35],[0.75,0.3],[-0.02,-0.5],[0.38,-0.35],[-0.25,0.0],[0.6,-0.48],[-0.75,0.1],[0.08,0.12],[-0.48,-0.42],[0.68,0.42],[-0.1,-0.25],[0.2,0.75],[-0.25,-0.65],[0.32,-0.72],[0.85,0.02],[-0.62,0.55],[0.15,-0.85],[-0.2,0.68],[0.62,0.12],[-0.42,-0.72],[0.78,0.68],[-0.85,-0.25],[-0.05,-0.72],[0.52,0.8],[-0.55,0.22],
[1.02,0.1],[-0.98,0.58],[0.58,-0.98],[-0.9,-0.6],[1.18,-0.4],[-1.2,0.2],[0.45,1.15],[-0.52,1.0],[0.35,-1.22],[-0.4,-1.15],[1.15,0.45],[-1.15,-0.3],[0.8,1.05],[-0.82,1.0],[1.15,-0.8],[-1.1,-0.65],[0.7,1.1],[-0.45,1.2],[0.65,-1.05],[-0.7,-1.0],[1.3,0.3],[-1.28,0.05],[-0.05,1.18],[0.15,-1.3],[1.35,0.75],[-1.35,0.6],[0.85,-1.15],[-0.98,-0.95],[1.55,-0.15],[-1.55,0.4],[0.25,1.5],[-0.2,-1.5],[1.5,-0.6],[-1.5,-0.45],[1.45,1.0],[-1.1,1.35],[1.05,-1.3],[-1.3,-1.1],[1.75,-0.35],[-1.8,0.0],[0.5,1.55],[-0.5,-1.6],[1.68,0.9],[-1.72,0.8],[0.85,-1.55],[-0.95,-1.4],[1.75,-0.85],[-1.65,-0.8],[0.6,-1.45],[-0.35,1.65],
[-1.7,3.55],[-2.29,2.62],[-0.9,2.54],[-0.59,2.54],[-0.25,2.46],[-0.15,2.62],[1.26,2.68],[1.38,2.41],[1.76,2.46],[2.05,2.18],[2.72,2.15],[-2.16,1.86],[-2.67,1.44],[-2.46,1.56],[-1.73,1.86],[-1.49,1.94],[-3.22,0.48],[-2.84,0.68],[-2.56,-0.21],[-2.72,-0.45],[-2.65,-0.45],[-2.75,-0.93],[-2.32,-1.55],[-2.15,-1.55],[-1.76,-1.86],[-1.46,-2.58],[-1.18,-2.35],[-0.56,-2.61],[-0.06,-2.96],[-0.62,-3.59],[0.7,-3.3],[0.45,-2.58],[1.12,-2.35],[1.29,-2.2],[2.35,-1.48],[3.23,-1.51],[2.44,-1.04],[2.6,-0.49],[2.43,-0.38],[2.09,-0.23],[2.16,0.49],[2.17,0.21],[2.11,1.1],[2.39,1.44],[1.73,1.93],[1.77,2.0],[2.0,1.5]
];

const pts1000: number[][] = [
[0.0,0.15],[-0.22,0.35],[0.28,-0.2],[-0.3,-0.3],[0.18,0.5],[-0.52,0.05],[0.42,0.28],[0.12,-0.45],[-0.08,-0.1],[0.3,0.0],[-0.25,0.5],[0.5,-0.4],[-0.58,-0.45],[0.05,0.6],[0.4,0.45],[-0.48,0.35],[0.62,0.15],[-0.12,-0.55],[0.22,-0.28],[-0.02,0.3],[0.38,-0.5],[-0.65,0.2],[0.15,0.25],[-0.3,0.0],[0.52,0.5],[-0.15,0.18],[0.32,0.32],[-0.42,-0.6],[0.05,-0.25],[0.68,-0.1],[-0.5,0.62],[0.25,-0.6],[-0.1,0.45],[0.48,-0.02],[-0.2,-0.4],[0.55,0.65],[-0.62,-0.2],[-0.02,-0.4],[0.3,0.62],[-0.38,0.2],
[0.88,0.35],[-0.88,0.55],[0.72,-0.85],[-0.7,-0.9],[1.12,-0.25],[-1.08,0.15],[0.28,1.05],[-0.45,1.0],[0.15,-1.15],[-0.25,-1.05],[1.18,0.62],[-1.22,-0.55],[0.82,0.95],[-0.92,1.0],[1.05,-0.75],[-1.05,-0.8],[0.5,1.25],[-0.6,1.2],[0.4,-1.25],[-0.6,-1.2],[1.32,0.05],[-1.32,0.2],[0.0,1.35],[-0.05,-1.35],[1.15,0.8],[-1.2,0.85],[0.9,-1.05],[-1.1,-1.0],[0.78,0.55],[-0.82,0.4],[0.82,-0.3],[-0.72,-0.65],[1.38,-0.4],[-1.38,-0.25],[0.3,0.8],[-0.1,0.9],[0.3,-0.95],[-0.25,-0.8],[1.08,0.1],[-0.98,-0.35],[0.58,0.82],[-0.65,0.75],[0.7,-0.55],[-0.55,-0.95],[1.28,-0.85],[-1.15,1.1],[0.85,1.2],[-0.8,-1.25],[0.12,1.2],[-0.02,-1.2],[1.42,0.3],[-1.42,-0.6],[0.65,-1.3],[-0.35,1.3],[1.0,0.65],[-1.05,0.5],[0.45,-0.98],[-0.92,-0.15],[0.92,-0.05],[-0.4,0.88],[0.38,1.38],[-0.65,-1.35],[1.25,-0.65],[-1.28,0.65],[0.98,0.4],
[1.62,0.55],[-1.62,0.5],[1.52,-0.95],[-1.52,-0.9],[0.55,1.72],[-0.75,1.6],[0.45,-1.72],[-0.55,-1.65],[1.78,-0.1],[-1.82,-0.3],[0.2,1.85],[-0.2,-1.9],[1.28,1.38],[-1.25,1.45],[1.2,-1.42],[-1.38,-1.38],[1.92,0.65],[-1.88,0.35],[1.72,-0.7],[-1.72,-0.7],[0.9,1.65],[-0.95,1.8],[0.92,-1.6],[-0.95,-1.65],[1.6,1.0],[-1.6,1.05],[1.42,-1.28],[-1.55,-1.45],[2.02,-0.35],[-2.02,0.05],[0.25,2.05],[-0.3,1.9],[0.3,-1.9],[-0.25,-2.05],[1.68,0.25],[-1.7,0.15],[1.05,1.5],[-1.1,-1.8],[0.7,2.0],[-0.8,2.05],[1.88,-1.05],[-1.9,-1.0],[0.75,-2.1],[-0.7,-2.0],[2.08,0.3],[-2.08,-0.5],[1.4,1.7],[-1.4,1.75],[1.65,-1.55],[-1.35,-1.8],[-0.05,2.2],[0.1,-2.2],[1.98,1.15],[-2.0,1.0],[1.15,-1.95],
[0.08,0.05],[-0.15,0.25],[0.25,-0.08],[-0.25,-0.18],[0.12,0.4],[-0.42,0.12],[0.38,0.38],[0.15,-0.35],[-0.12,-0.25],[0.42,0.18],[-0.32,0.42],[0.45,-0.25],[-0.48,-0.3],[-0.08,0.55],[0.25,0.52],[-0.58,0.3],[0.7,0.35],[-0.05,-0.48],[0.35,-0.4],[-0.2,0.08],[0.58,-0.5],[-0.7,0.08],[0.05,0.18],[-0.5,-0.35],[0.65,0.45],[-0.12,-0.08],[0.18,0.72],[-0.28,-0.6],[0.3,-0.7],[0.78,-0.02],[-0.65,0.5],[0.12,-0.78],[-0.18,0.7],[0.6,0.08],[-0.4,-0.75],[0.72,0.72],[-0.8,-0.28],[-0.08,-0.68],[0.48,0.82],[-0.52,0.18],
[1.0,0.2],[-0.95,0.6],[0.6,-0.92],[-0.85,-0.62],[1.2,-0.38],[-1.18,0.3],[0.4,1.1],[-0.5,1.05],[0.32,-1.15],[-0.45,-1.1],[1.12,0.42],[-1.12,-0.38],[0.78,1.08],[-0.8,1.1],[1.1,-0.88],[-1.15,-0.62],[0.62,1.12],[-0.48,1.22],[0.62,-1.1],[-0.72,-1.02],[1.28,0.2],[-1.25,0.08],[-0.12,1.22],[0.1,-1.28],[1.32,0.72],[-1.3,0.6],[0.8,-1.18],[-0.95,-0.98],[1.52,-0.2],[-1.52,0.38],[0.22,1.48],[-0.18,-1.48],[1.48,-0.62],[-1.48,-0.42],[1.42,1.02],[-1.08,1.32],[1.02,-1.38],[-1.28,-1.12],[1.72,-0.32],[-1.78,0.02],[0.48,1.58],[-0.48,-1.58],[1.65,0.88],[-1.7,0.82],[0.82,-1.52],[-0.92,-1.42],[1.78,-0.82],[-1.62,-0.78],[0.58,-1.48],[-0.38,1.62],
[0.03,3.27],[0.79,3.21],[-1.11,3.04],[-0.94,2.7],[-0.77,2.54],[-0.86,2.32],[-0.08,2.9],[0.28,2.82],[1.63,2.7],[1.42,2.32],[0.59,2.45],[-2.37,1.69],[-3.06,1.28],[-2.89,0.9],[-2.2,1.28],[-2.58,0.49],[-2.51,0.31],[-2.33,0.62],[-3.68,0.17],[-3.62,-0.55],[-3.38,-0.51],[-2.49,-0.76],[-2.36,-0.82],[-2.16,-0.76],[-2.2,-0.28],[-2.05,-0.18],[-1.84,-1.31],[-1.73,-2.21],[-1.53,-2.39],[-0.93,-2.62],[-0.14,-3.13],[0.38,-3.17],[0.42,-2.49],[0.49,-2.49],[0.87,-2.62],[1.21,-2.27],[1.74,-1.86],[2.25,-1.35],[2.28,-1.24],[2.94,-1.65],[3.4,-1.08],[2.36,-1.14],[2.3,-0.8],[2.42,-0.25],[2.47,-0.07],[3.19,0.34],[2.4,0.21],[2.12,0.52],[2.13,0.38],[2.64,0.86],[2.77,0.93],[2.35,1.38],[2.54,1.41],[2.13,1.06],[1.63,1.58]
];

const panels = [pts01, pts05, pts1, pts10, pts100, pts1000];

const AX = 185;
const L = 33;
const T = 32;
const R = 8;
const B = 24;
const colLeft = [33, 236];
const rowTop = [32, 256, 481];

const fmt = (v: number | string) => String(v).replace('-', '\u2212');

function Panel({ idx }: { idx: number }) {
  const ref = useRef<HTMLCanvasElement>(null);
  const col = idx % 2;
  const row = Math.floor(idx / 2);
  useEffect(() => {
    const showX = row === 2;
    const showY = col === 0;
    const frame = {
      id: 'frame',
      afterDraw(c: any) {
        const a = c.chartArea;
        const ctx = c.ctx;
        ctx.save();
        ctx.strokeStyle = '#000';
        ctx.lineWidth = 0.8;
        ctx.strokeRect(a.left, a.top, a.right - a.left, a.bottom - a.top);
        ctx.restore();
      },
    };
    const gridOpts = { color: '#b0b0b0', lineWidth: 0.8, tickLength: 3.5, tickColor: '#000', tickWidth: 0.8, drawTicks: true };
    const chart = new Chart(ref.current as HTMLCanvasElement, {
      type: 'scatter',
      data: {
        datasets: [{
          data: panels[idx].map(([x, y]) => ({ x, y })),
          backgroundColor: '#0000ff',
          borderWidth: 0,
          pointRadius: 0.95,
          pointHoverRadius: 0.95,
        }],
      },
      options: {
        animation: false,
        responsive: false,
        devicePixelRatio: 1,
        events: [],
        layout: { padding: { left: 0, right: R, top: 0, bottom: 0 } },
        plugins: {
          legend: { display: false },
          tooltip: { enabled: false },
          title: {
            display: true,
            text: '\u03b3 = ' + gammaLabels[idx],
            color: '#000',
            font: { family: 'DejaVu Sans', size: 12, weight: 'normal', lineHeight: 1.2 },
            padding: { top: 15.3, bottom: 2.3 },
          },
        },
        scales: {
          x: {
            type: 'linear',
            min: xRange[0],
            max: xRange[1],
            afterBuildTicks: (s: any) => { s.ticks = xTicks.map((v) => ({ value: v })); },
            afterFit: (s: any) => { s.height = B; },
            grid: gridOpts,
            border: { display: false },
            ticks: { display: showX, color: '#000', font: { family: 'DejaVu Sans', size: 10 }, padding: 1, maxRotation: 0, autoSkip: false, callback: fmt },
          },
          y: {
            type: 'linear',
            min: yRange[0],
            max: yRange[1],
            afterBuildTicks: (s: any) => { s.ticks = yTicks.map((v) => ({ value: v })); },
            afterFit: (s: any) => { s.width = L; },
            grid: gridOpts,
            border: { display: false },
            ticks: { display: showY, color: '#000', font: { family: 'DejaVu Sans', size: 10 }, padding: 4, autoSkip: false, callback: fmt },
          },
        },
      } as any,
      plugins: [frame],
    });
    return () => chart.destroy();
  }, [idx]);
  const w = L + AX + R;
  const h = T + AX + B;
  return (
    <canvas
      ref={ref}
      width={w}
      height={h}
      style={{ position: 'absolute', left: colLeft[col] - L, top: rowTop[row] - T, width: w, height: h }}
    />
  );
}

export default function App() {
  return (
    <div style={{ position: 'fixed', left: 0, top: 0, width: 432, height: 698, background: '#fff', overflow: 'hidden' }}>
      {panels.map((_, i) => <Panel key={i} idx={i} />)}
    </div>
  );
}
